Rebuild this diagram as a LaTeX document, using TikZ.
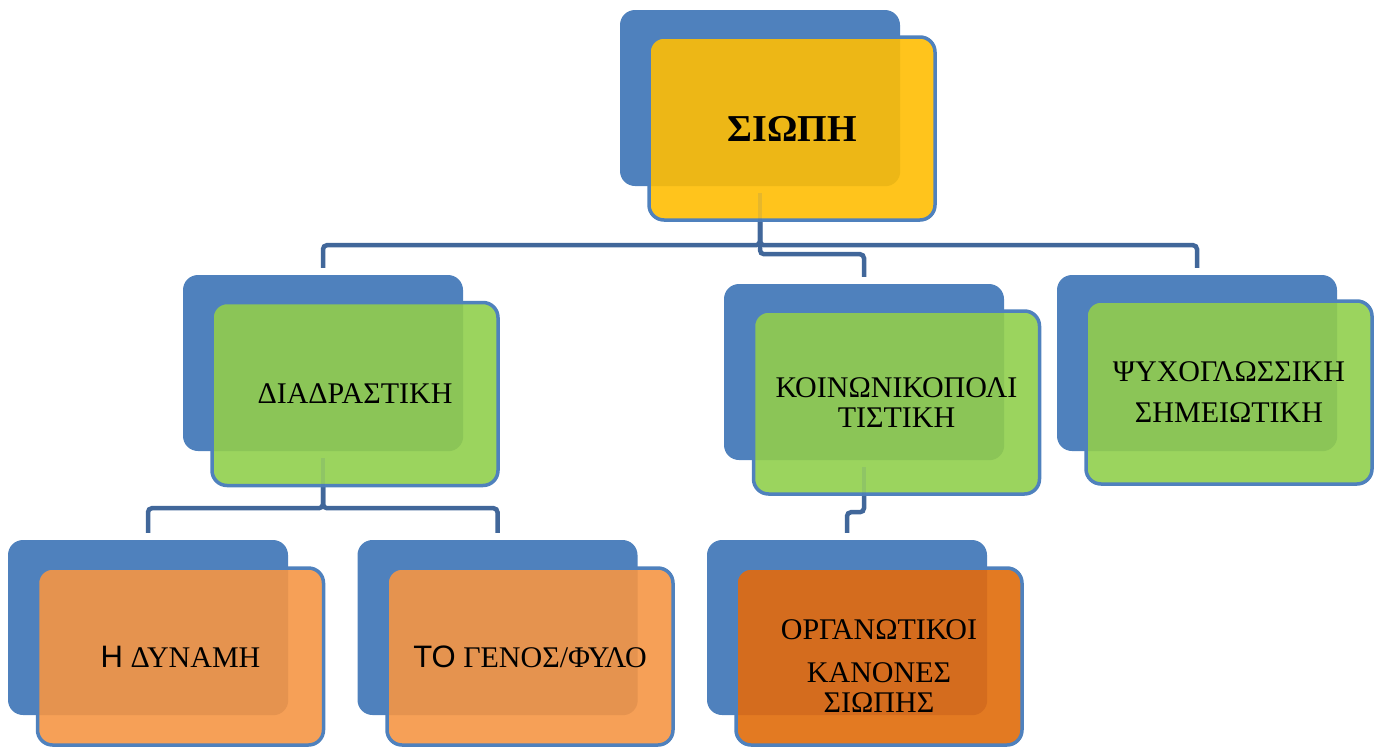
\documentclass[tikz,border=0pt]{standalone}
\usepackage{fontspec}
\setmainfont{Liberation Serif}
\newfontfamily\sansgr{Liberation Sans}
\definecolor{blueB}{HTML}{4F81BD}
\definecolor{lineC}{HTML}{41679A}
\definecolor{yellowF}{HTML}{FFC41C}
\definecolor{yellowD}{HTML}{EDB716}
\definecolor{greenF}{HTML}{9BD45E}
\definecolor{greenD}{HTML}{8BC557}
\definecolor{orangeF}{HTML}{F6A057}
\definecolor{orangeD}{HTML}{E5934F}
\definecolor{dorangeF}{HTML}{E37A22}
\definecolor{dorangeD}{HTML}{D46C1E}
\begin{document}
\begin{tikzpicture}[x=1pt,y=-1pt,
  back/.style={rectangle, rounded corners=15pt, fill=blueB, minimum width=280pt, minimum height=176pt, inner sep=0pt},
  backlow/.style={back, minimum height=175pt},
  front/.style={rectangle, rounded corners=15pt, draw=blueB, line width=3.5pt, minimum width=286pt, minimum height=183pt, align=center, inner sep=0pt, font=\fontsize{30}{30}\selectfont},
  frontlow/.style={front, minimum height=177pt},
  overlap/.style={path picture={\fill[#1, rounded corners=15pt] (b.south west) rectangle (b.north east);}},
  conn/.style={draw=lineC, line width=4.5pt, rounded corners=4pt},
  faint/.style={draw=lineC, line width=4.5pt, draw opacity=0.13}]
\useasboundingbox (0,0) rectangle (1376,747);

% back boxes
\node[back] (bT) at (760,98) {};
\node[back] (bD) at (323,363) {};
\node[back] (bK) at (864,372) {};
\node[back] (bP) at (1197,363) {};
\node[backlow] (bH) at (148,627.5) {};
\node[backlow] (bG) at (497.5,627.5) {};
\node[backlow] (bO) at (847,627.5) {};

% connectors
\draw[conn] ([yshift=-7pt]bT.south) -- ++(0,52) -| ([yshift=7pt]bD.north);
\draw[conn] ([yshift=-7pt]bT.south) -- ++(0,52) -| ([yshift=7pt]bP.north);
\draw[conn] ([yshift=-7pt]bT.south) -- ++(0,61) -| ([yshift=7pt]bK.north);
\draw[conn] ([yshift=-7pt]bD.south) -- ++(0,50) -| ([yshift=7pt]bH.north);
\draw[conn] ([yshift=-7pt]bD.south) -- ++(0,50) -| ([yshift=7pt]bG.north);
\draw[conn] ([yshift=-7pt]bK.south) -- ++(0,45) -| ([yshift=7pt]bO.north);

% front boxes
\begin{scope}
\pgfnodealias{b}{bT}
\node[front, fill=yellowF, overlap=yellowD] (fT) at (792,128.5) {\fontsize{38}{40}\selectfont\bfseries ΣΙΩΠΗ};
\end{scope}
\begin{scope}
\pgfnodealias{b}{bD}
\node[front, fill=greenF, overlap=greenD] (fD) at (355,394) {ΔΙΑΔΡΑΣΤΙΚΗ};
\end{scope}
\begin{scope}
\pgfnodealias{b}{bK}
\node[front, fill=greenF, overlap=greenD] (fK) at (896.5,402.5) {ΚΟΙΝΩΝΙΚΟΠΟΛΙ\\ΤΙΣΤΙΚΗ};
\end{scope}
\begin{scope}
\pgfnodealias{b}{bP}
\node[front, fill=greenF, overlap=greenD, font=\fontsize{30}{41}\selectfont] (fP) at (1229,392.5) {ΨΥΧΟΓΛΩΣΣΙΚΗ\\ΣΗΜΕΙΩΤΙΚΗ};
\end{scope}
\begin{scope}
\pgfnodealias{b}{bH}
\node[frontlow, fill=orangeF, overlap=orangeD] (fH) at (180.5,656.5) {{\sansgr\fontsize{31}{34}\selectfont Η} ΔΥΝΑΜΗ};
\end{scope}
\begin{scope}
\pgfnodealias{b}{bG}
\node[frontlow, fill=orangeF, overlap=orangeD] (fG) at (530,656.5) {{\sansgr\fontsize{31}{34}\selectfont ΤΟ} ΓΕΝΟΣ/ΦΥΛΟ};
\end{scope}
\begin{scope}
\pgfnodealias{b}{bO}
\node[frontlow, fill=dorangeF, overlap=dorangeD] (fO) at (879,656.5) {\rule{0pt}{38pt}ΟΡΓΑΝΩΤΙΚΟΙ\\[13pt]ΚΑΝΟΝΕΣ\\ΣΙΩΠΗΣ};
\end{scope}

% faint connector parts seen through the front boxes
\draw[faint] ([yshift=-7pt]bT.south) -- (bT.south |- fT.south);
\draw[faint] ([yshift=-7pt]bD.south) -- (bD.south |- fD.south);
\draw[faint] ([yshift=-7pt]bK.south) -- (bK.south |- fK.south);
\end{tikzpicture}
\end{document}
